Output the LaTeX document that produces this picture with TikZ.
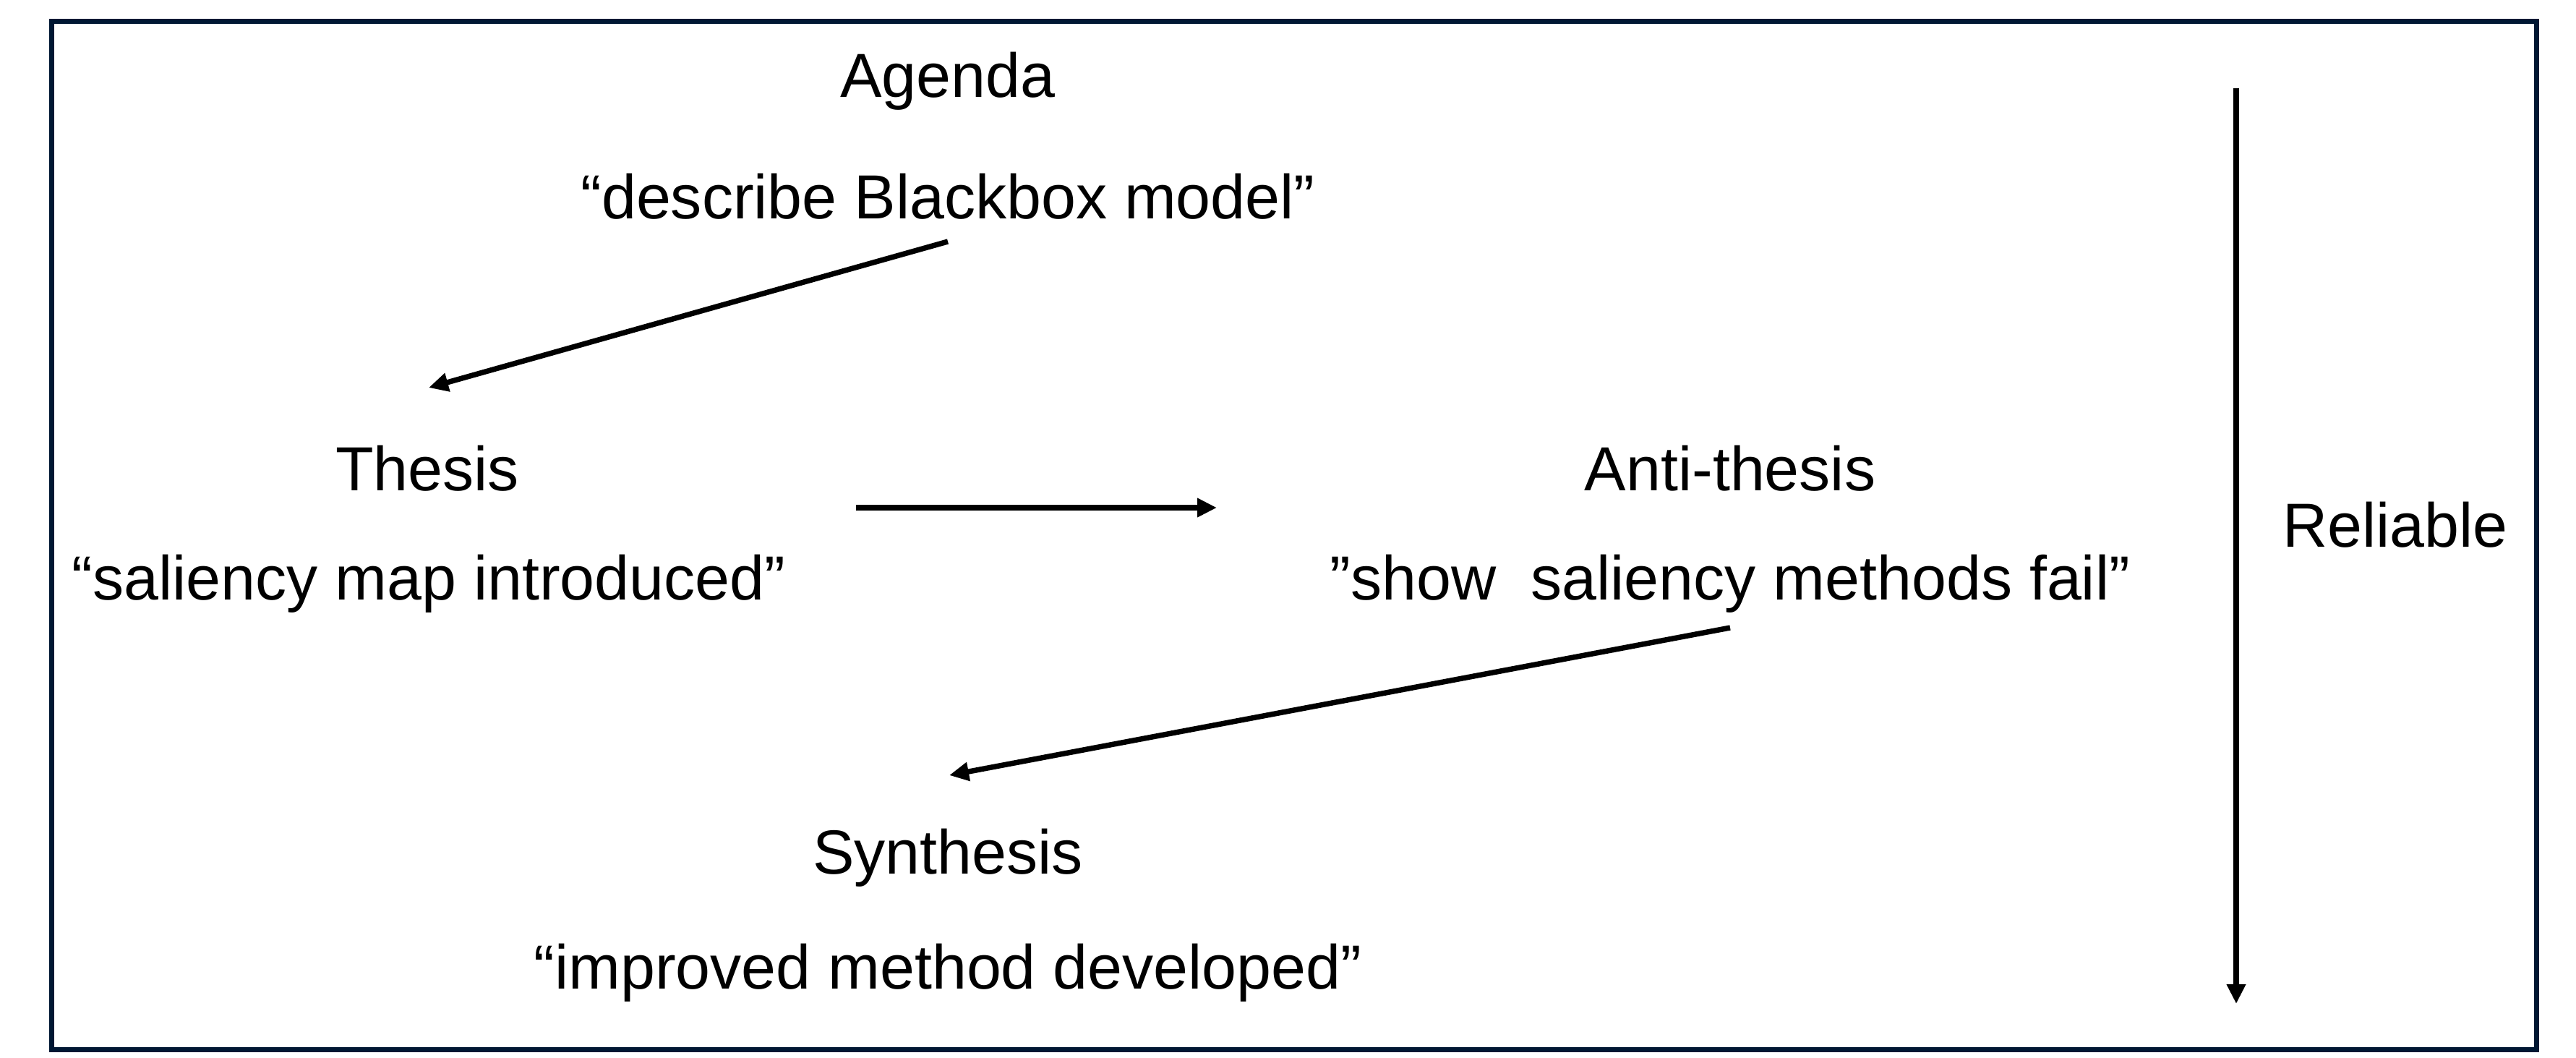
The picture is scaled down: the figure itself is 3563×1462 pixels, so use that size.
\documentclass[tikz,border=0pt]{standalone}
\usepackage{fontspec}
\setmainfont{Liberation Sans}
\usetikzlibrary{arrows.meta}
\definecolor{framenavy}{RGB}{0,23,51}
\begin{document}
\begin{tikzpicture}[x=0.01cm,y=-0.01cm,
  lbl/.style={font=\fontsize{24.5}{29}\selectfont, inner sep=0pt, anchor=center},
  conn/.style={line width=2.1pt, -{Triangle[length=0.27cm,width=0.25cm]}},
  frame/.style={draw=framenavy, line width=2pt}]
\useasboundingbox (0,0) rectangle (3563,1462);
\draw[frame] (71.5,29.5) rectangle (3508.5,1451.5);

\node[lbl] (agenda) at (1311,112) {Agenda};
\node[lbl] (agendaq) at (1311,272) {“describe Blackbox model”};
\node[lbl] (thesis) at (591,648) {Thesis};
\node[lbl] (thesisq) at (593,807) {“saliency map introduced”};
\node[lbl] (anti) at (2393,648) {Anti-thesis};
\node[lbl] (antiq) at (2393,807) {”show\ \ saliency methods fail”};
\node[lbl] (synth) at (1311,1186) {Synthesis};
\node[lbl] (synthq) at (1311,1345) {“improved method developed”};
\node[lbl] (reliable) at (3313,726) {Reliable};

\coordinate (a1s) at (1311,334);
\coordinate (a1e) at (593,536);
\coordinate (a2s) at (1184,702);
\coordinate (a2e) at (1683,702);
\coordinate (a3s) at (2393,868);
\coordinate (a3e) at (1313,1072);
\coordinate (a4s) at (3093,122);
\coordinate (a4e) at (3093,1388);

\draw[conn] (a1s) -- (a1e);
\draw[conn] (a2s) -- (a2e);
\draw[conn] (a3s) -- (a3e);
\draw[conn] (a4s) -- (a4e);
\end{tikzpicture}
\end{document}
